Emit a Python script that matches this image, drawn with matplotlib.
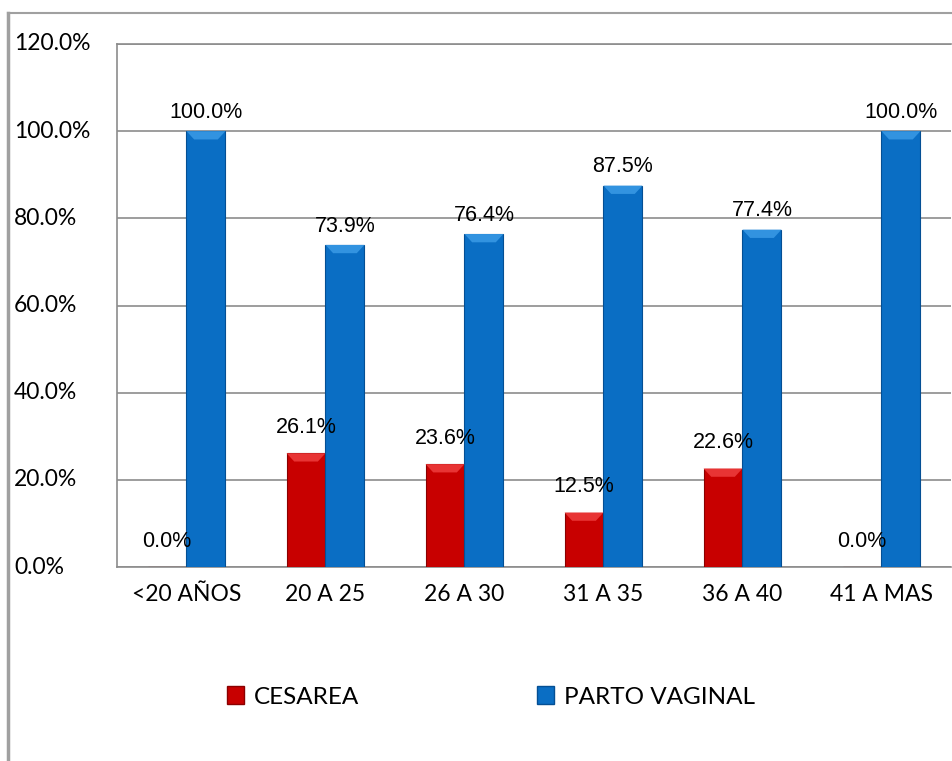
import matplotlib
matplotlib.use("Agg")
import matplotlib.pyplot as plt
from matplotlib.patches import Polygon, Patch
from matplotlib.transforms import blended_transform_factory
from matplotlib import font_manager
import numpy as np

categories = ["<20 AÑOS", "20 A 25", "26 A 30", "31 A 35", "36 A 40", "41 A MAS"]
cesarea = [0.0, 26.1, 23.6, 12.5, 22.6, 0.0]
parto_vaginal = [100.0, 73.9, 76.4, 87.5, 77.4, 100.0]
series_names = ["CESAREA", "PARTO VAGINAL"]
yticks = [0, 20, 40, 60, 80, 100, 120]

names = {f.name for f in font_manager.fontManager.ttflist}
label_font = "Liberation Sans Narrow" if "Liberation Sans Narrow" in names else "Liberation Sans"
axis_font = "Lato"

red, red_top = "#c80000", "#e83434"
blue, blue_top = "#0a6ec4", "#3293e0"
grid_col = "#8c8c8c"

fig = plt.figure(figsize=(9.53, 7.61), dpi=100)
W, H = 953, 761
ax = fig.add_axes([117 / W, 1 - 567 / H, 834 / W, (567 - 44) / H])

# outer chart border (top and left visible)
fig.add_artist(plt.Line2D([8 / W, 1], [1 - 13 / H, 1 - 13 / H], color="#a0a0a0", lw=1.5, transform=fig.transFigure))
fig.add_artist(plt.Line2D([8 / W, 8 / W], [1 - 13 / H, 0], color="#a0a0a0", lw=2.5, transform=fig.transFigure))

x = np.arange(len(categories))
bw = 0.28
ax.set_xlim(-0.5, len(categories) - 0.5)
ax.set_ylim(0, 120)

b1 = ax.bar(x - bw / 2, cesarea, bw, color=red, edgecolor="#8a0000", linewidth=0.8, zorder=3)
b2 = ax.bar(x + bw / 2, parto_vaginal, bw, color=blue, edgecolor="#044f94", linewidth=0.8, zorder=3)

# bevel on top of each bar
dx, dy = 0.055, 1.9
for bars, top_col in ((b1, red_top), (b2, blue_top)):
    for r in bars:
        h = r.get_height()
        if h <= 0:
            continue
        x0, x1 = r.get_x(), r.get_x() + r.get_width()
        ax.add_patch(Polygon([(x0, h), (x1, h), (x1 - dx, h - dy), (x0 + dx, h - dy)],
                             closed=True, color=top_col, lw=0, zorder=4))

for xi, v in zip(x, cesarea):
    ax.annotate(f"{v:.1f}%", (xi - bw / 2, v), xytext=(0, 11), textcoords="offset points",
                ha="center", va="bottom", fontsize=15.5, family=label_font, zorder=5)
for xi, v in zip(x, parto_vaginal):
    ax.annotate(f"{v:.1f}%", (xi + bw / 2, v), xytext=(0, 6), textcoords="offset points",
                ha="center", va="bottom", fontsize=15.5, family=label_font, zorder=5)

ax.set_yticks(yticks)
ax.set_yticklabels([])
ax.tick_params(axis="y", length=0)
tr = blended_transform_factory(fig.transFigure, ax.transData)
for t in yticks:
    fig.text(14 / W, t, f"{t:.1f}%", transform=tr, ha="left", va="center",
             fontsize=16.5, family=axis_font)

ax.set_xticks(x)
ax.set_xticklabels(categories, fontsize=16.5, family=axis_font)
ax.tick_params(axis="x", length=0, pad=12)

ax.yaxis.grid(True, color=grid_col, lw=1.2, zorder=0)
ax.spines["right"].set_visible(False)
for s in ("left", "bottom", "top"):
    ax.spines[s].set_color(grid_col)
    ax.spines[s].set_linewidth(1.2)

handles = [Patch(facecolor=red, edgecolor="#8a0000"), Patch(facecolor=blue, edgecolor="#044f94")]
fig.legend(handles, series_names, loc="center", bbox_to_anchor=(491 / W, 1 - 697 / H), ncol=2,
           frameon=False, handlelength=0.7, handleheight=0.7, handletextpad=0.4,
           columnspacing=7.3, prop={"family": axis_font, "size": 17.5})

fig.savefig("out.png", dpi=100)
